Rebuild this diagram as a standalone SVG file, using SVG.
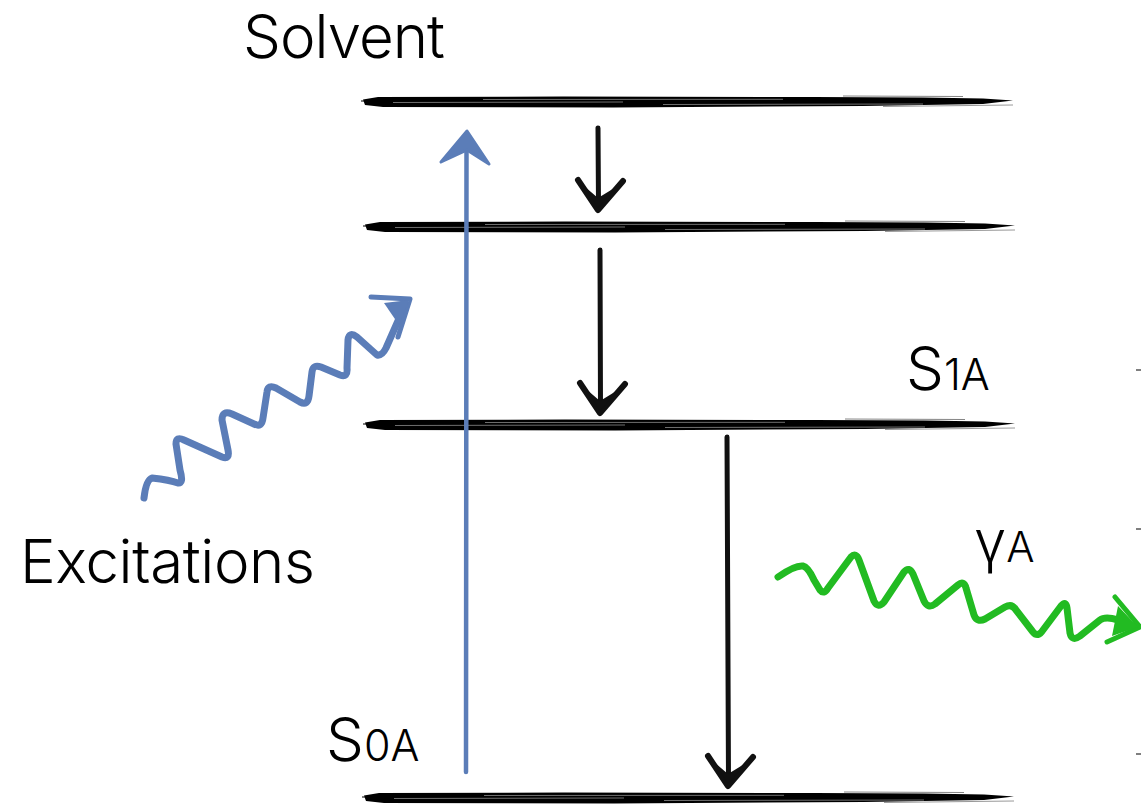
<svg xmlns="http://www.w3.org/2000/svg" width="1141" height="809" viewBox="0 0 1141 809">
<style>
.lbl{font-family:Inter,"Liberation Sans",Arial,sans-serif;font-weight:300;fill:#000}
.blk{fill:none;stroke:#111;stroke-linecap:round;stroke-linejoin:round}
.blue{fill:none;stroke:#5b7db8;stroke-linecap:round;stroke-linejoin:round}
.green{fill:none;stroke:#22bb22;stroke-linecap:round;stroke-linejoin:round}
.tex{stroke:#fff;stroke-width:0.8;opacity:0.55;fill:none}
</style>
<defs>
<g id="brush">
<path d="M0,-2.5 L15,-5 L200,-5.5 L450,-5 L560,-4.5 L620,-3.5 L650,-1.5 L620,2 L500,4 L250,5.5 L20,5 L2,3 Z" fill="#000"/>
<path d="M-2,-1 L40,-1" stroke="#000" stroke-width="1.2"/>
<path d="M30,0.5 L260,0" class="tex"/>
<path d="M120,-2.5 L420,-2.7" class="tex"/>
<path d="M300,2.5 L560,2" class="tex"/>
<path d="M480,-6 L600,-5.5" stroke="#000" stroke-width="0.8" opacity="0.6"/>
<path d="M520,4.5 L650,3" stroke="#000" stroke-width="0.8" opacity="0.5"/>
</g>
<g id="vhead">
<path d="M-20,-30 L0,0 L25,-29" class="blk" stroke-width="6"/>
<path d="M-14,-24 L0,-12 L18,-23 L0,-2 Z" fill="#111"/>
</g>
</defs>

<g id="levels">
<use href="#brush" x="363" y="102"/>
<use href="#brush" x="365" y="227"/>
<use href="#brush" x="365" y="425"/>
<use href="#brush" x="364" y="798"/>
</g>

<g id="connectors">
<g id="excite-arrow">
<path d="M466,772 L466.5,140" class="blue" stroke-width="4.5"/>
<path d="M441,162 L467,131 L489,164 L467,150 Z" fill="#5b7db8" stroke="#5b7db8" stroke-width="3" stroke-linejoin="round"/>
</g>
<g id="relax1">
<path d="M598,128 L598.5,205" class="blk" stroke-width="5"/>
<use href="#vhead" x="598" y="210"/>
</g>
<g id="relax2">
<path d="M600,250 L600.5,408" class="blk" stroke-width="5"/>
<use href="#vhead" x="600" y="413"/>
</g>
<g id="emit-arrow">
<path d="M727,437 L728.5,781" class="blk" stroke-width="5"/>
<use href="#vhead" x="728" y="786"/>
</g>
<g id="excite-wave">
<path d="M144,498 Q146,480 152,478 Q170,480 178,483 Q184,484 180,470 L176,444 Q176,436 184,440 L222,457 Q230,460 228,450 L222,420 Q222,410 232,414 L254,424 Q262,428 263,418 L267,392 Q268,384 276,388 L300,402 Q308,406 309,396 L312,372 Q313,364 321,367 L340,375 Q348,378 347,368 L348,340 Q349,331 357,337 L377,355 Q382,356 386,348 L405,305" class="blue" stroke-width="7"/>
<path d="M371,297 L410,299 L398,337" fill="none" stroke="#5b7db8" stroke-width="5" stroke-linejoin="round" stroke-linecap="round"/>
<path d="M384,303 L409,300 L399,325 Z" fill="#5b7db8"/>
</g>
<g id="emit-wave">
<path d="M778,577 Q795,565 803,566 Q808,567 814,580 L820,590 Q824,595 828,588 L851,557 Q856,552 859,560 L874,601 Q878,609 884,602 L904,572 Q909,566 913,574 L924,601 Q928,609 935,604 L958,585 Q964,580 966,588 L974,615 Q977,623 985,619 L1005,607 Q1012,603 1016,610 L1033,632 Q1038,638 1043,630 L1061,606 Q1066,600 1067,608 L1070,633 Q1072,642 1080,636 L1100,620 Q1108,614 1133,626" class="green" stroke-width="7"/>
<path d="M1115,597 L1140,627 L1107,642" fill="none" stroke="#22bb22" stroke-width="5" stroke-linejoin="round" stroke-linecap="round"/>
<path d="M1118,606 L1138,627 L1112,636 Z" fill="#22bb22"/>
</g>
</g>

<g id="label-solvent"><text class="lbl" x="243" y="58" font-size="60" textLength="202">Solvent</text></g>
<g id="label-excitations"><text class="lbl" x="20" y="583" font-size="60" textLength="295">Excitations</text></g>
<g id="label-s1a"><text class="lbl" x="906" y="390" font-size="60">S<tspan font-size="43">1A</tspan></text></g>
<g id="label-s0a"><text class="lbl" x="326" y="761" font-size="60">S<tspan font-size="43">0A</tspan></text></g>
<g id="label-gamma"><text class="lbl" x="974" y="562" font-size="58" font-weight="600">γ<tspan font-size="42" font-weight="300">A</tspan></text></g>

<g id="edge-marks" stroke="#555" stroke-width="1.5">
<path d="M1136,370 L1141,370"/>
<path d="M1136,529 L1141,529"/>
<path d="M1136,754 L1141,754"/>
</g>
</svg>
